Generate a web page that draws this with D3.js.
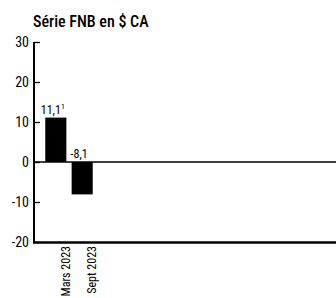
<!DOCTYPE html>
<html>
<head>
<meta charset="utf-8">
<script src="https://cdn.jsdelivr.net/npm/d3@7"></script>
<style>
  body { margin: 0; background: #fff; }
  text { font-family: Roboto, "Open Sans", sans-serif; font-stretch: condensed; fill: #000; }
</style>
</head>
<body>
<div id="chart"></div>
<script>
  // data
  var categories = ["Mars 2023", "Sept 2023"]
  var values = [11.1, -8.1]
  var valueLabels = ["11,1", "-8,1"]
  var labelNotes = ["1", ""]
  var yTicks = [-20, -10, 0, 10, 20, 30]
  var title = "Série FNB en $ CA"

  var width = 336
  var height = 298

  var svg = d3.select("#chart")
    .append("svg")
    .attr("width", width)
    .attr("height", height)

  // scales
  var y = d3.scaleLinear()
    .domain([-20, 30])
    .range([242, 42])

  var x = d3.scaleBand()
    .domain(categories)
    .range([40, 98])
    .paddingInner(0.2)
    .paddingOuter(0.2)

  // title
  svg.append("text")
    .attr("x", 33)
    .attr("y", 27)
    .attr("font-size", "16px")
    .attr("font-weight", "500")
    .text(title)

  // y axis ticks
  var yAxis = svg.append("g")
    .attr("transform", "translate(34,0)")
    .call(d3.axisRight(y).tickValues(yTicks).tickSize(6).tickFormat(""))
  yAxis.select(".domain").remove()
  yAxis.selectAll(".tick line").attr("stroke", "#000").attr("stroke-width", 1.3)

  svg.append("g")
    .selectAll("text")
    .data(yTicks)
    .enter()
    .append("text")
    .attr("x", 29)
    .attr("y", function (d) { return y(d) + 5 })
    .attr("text-anchor", "end")
    .attr("font-size", "14px")
    .text(function (d) { return d })

  // bars
  svg.append("g")
    .selectAll("rect")
    .data(values)
    .enter()
    .append("rect")
    .attr("x", function (d, i) { return x(categories[i]) })
    .attr("width", x.bandwidth())
    .attr("y", function (d) { return y(Math.max(0, d)) })
    .attr("height", function (d) { return Math.abs(y(d) - y(0)) })
    .attr("fill", "#000")

  // zero line
  svg.append("line")
    .attr("x1", 34).attr("x2", width)
    .attr("y1", y(0)).attr("y2", y(0))
    .attr("stroke", "#000")
    .attr("stroke-width", 1.3)

  // axis lines
  svg.append("line")
    .attr("x1", 34).attr("x2", 34)
    .attr("y1", y(30)).attr("y2", y(-20) + 1)
    .attr("stroke", "#000")
    .attr("stroke-width", 2)
  svg.append("line")
    .attr("x1", 33).attr("x2", width)
    .attr("y1", y(-20) + 0.5).attr("y2", y(-20) + 0.5)
    .attr("stroke", "#000")
    .attr("stroke-width", 2.5)

  // value labels
  var vl = svg.append("g")
    .selectAll("text")
    .data(values)
    .enter()
    .append("text")
    .attr("x", function (d, i) { return x(categories[i]) + x.bandwidth() / 2 - 3 })
    .attr("y", function (d) { return y(Math.max(0, d)) - 4 })
    .attr("text-anchor", "middle")
    .attr("font-size", "12px")
  vl.append("tspan").text(function (d, i) { return valueLabels[i] })
  vl.append("tspan")
    .attr("dy", -5)
    .attr("font-size", "8px")
    .text(function (d, i) { return labelNotes[i] })

  // category labels
  svg.append("g")
    .selectAll("text")
    .data(categories)
    .enter()
    .append("text")
    .attr("transform", function (d) {
      return "translate(" + (x(d) + x.bandwidth() / 2 + 14) + ",246) rotate(-90)"
    })
    .attr("text-anchor", "end")
    .attr("font-size", "12px")
    .text(function (d) { return d })
</script>
</body>
</html>
